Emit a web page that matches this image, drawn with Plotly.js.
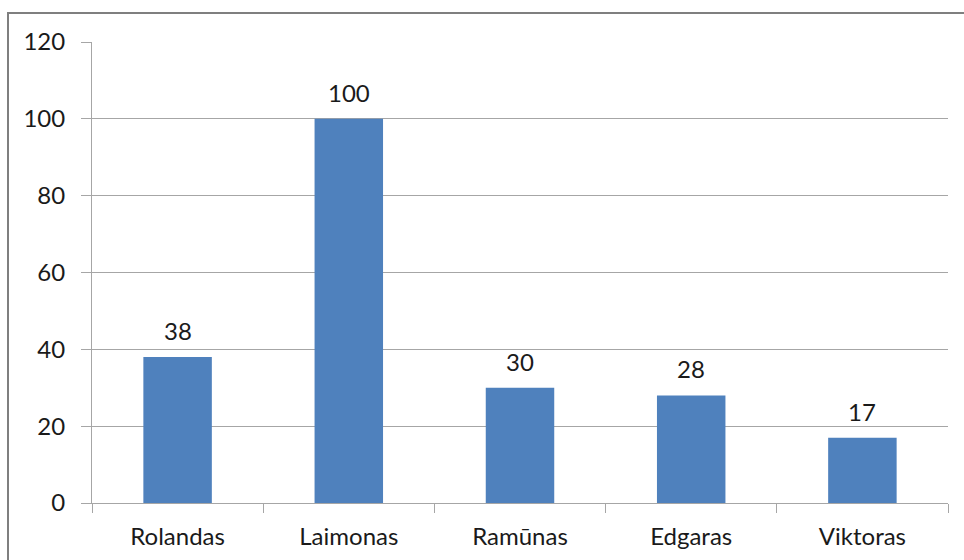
<!DOCTYPE html>
<html>
<head>
<meta charset="utf-8">
<script src="https://cdn.plot.ly/plotly-3.0.1.min.js"></script>
<style>
html,body{margin:0;padding:0;background:#fff;}
#chart{width:964px;height:560px;}
</style>
</head>
<body>
<div id="chart"></div>
<script>
const categories = ["Rolandas", "Laimonas", "Ramūnas", "Edgaras", "Viktoras"];
const values = [38, 100, 30, 28, 17];
const yTicks = [0, 20, 40, 60, 80, 100, 120];

const FONT = "Lato, 'Open Sans', sans-serif";
const TXT = "#1a1a1a";
const GRID = "#a6a6a6";
const FS = 24;

const trace = {
  type: "bar",
  x: categories,
  y: values,
  marker: {color: "#4f81bd", line: {width: 0}},
  hoverinfo: "none"
};

const annotations = categories.map((c, i) => ({
  x: c, y: values[i], xref: "x", yref: "y",
  text: String(values[i]), showarrow: false,
  yanchor: "bottom", yshift: 10,
  font: {family: FONT, size: FS, color: TXT}
}));

const layout = {
  width: 964, height: 560,
  margin: {l: 92, r: 16, t: 42, b: 57},
  paper_bgcolor: "#fff", plot_bgcolor: "#fff",
  showlegend: false,
  bargap: 0.6,
  xaxis: {
    type: "category",
    showline: true, linecolor: GRID, linewidth: 1,
    ticks: "outside", tickson: "boundaries", ticklen: 9, tickcolor: GRID, tickwidth: 1,
    showgrid: false,
    tickfont: {family: FONT, size: FS, color: TXT},
    ticklabelstandoff: 12
  },
  yaxis: {
    range: [0, 120],
    tickvals: yTicks,
    showline: true, linecolor: GRID, linewidth: 1,
    ticks: "outside", ticklen: 10, tickcolor: GRID, tickwidth: 1,
    showgrid: true, gridcolor: GRID, gridwidth: 1,
    zeroline: false,
    tickfont: {family: FONT, size: FS, color: TXT},
    ticklabelstandoff: 11
  },
  annotations: annotations,
  shapes: [{
    type: "rect", xref: "paper", yref: "paper",
    x0: (8 - 92) / 856, x1: 1.2,
    y0: -0.3, y1: 1 + (42 - 13) / 461,
    line: {color: "#7f7f7f", width: 2},
    fillcolor: "rgba(0,0,0,0)", layer: "below"
  }]
};

Plotly.newPlot("chart", [trace], layout, {displayModeBar: false, staticPlot: true});
</script>
</body>
</html>
